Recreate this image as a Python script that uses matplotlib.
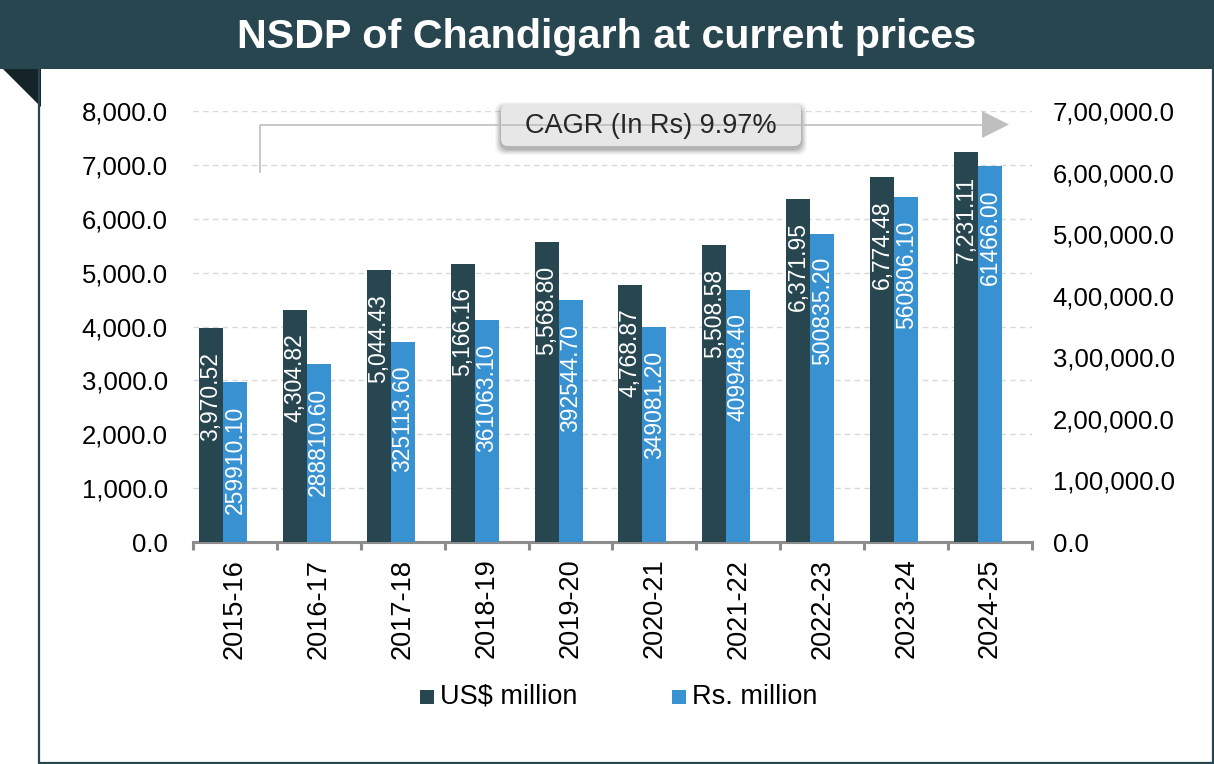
import matplotlib
matplotlib.use("Agg")
import matplotlib.pyplot as plt
from matplotlib.patches import Rectangle, Polygon, FancyBboxPatch
from matplotlib.ticker import FixedLocator, FuncFormatter, NullFormatter

plt.rcParams['font.family'] = ['Liberation Sans', 'DejaVu Sans']

# ---------------- data ----------------
years = ["2015-16", "2016-17", "2017-18", "2018-19", "2019-20",
         "2020-21", "2021-22", "2022-23", "2023-24", "2024-25"]
usd_million = [3970.52, 4304.82, 5044.43, 5166.16, 5568.80,
               4768.87, 5508.58, 6371.95, 6774.48, 7231.11]
rs_million = [259910.10, 288810.60, 325113.60, 361063.10, 392544.70,
              349081.20, 409948.40, 500835.20, 560806.10, 611466.00]
rs_labels = ["259910.10", "288810.60", "325113.60", "361063.10", "392544.70",
             "349081.20", "409948.40", "500835.20", "560806.10", "61466.00"]
series_names = ["US$ million", "Rs. million"]
title = "NSDP of Chandigarh at current prices"
cagr_text = "CAGR (In Rs) 9.97%"
left_ticks = [0, 1000, 2000, 3000, 4000, 5000, 6000, 7000, 8000]
right_ticks = [0, 100000, 200000, 300000, 400000, 500000, 600000, 700000]

# ---------------- style ----------------
DARK = "#27464f"
BLUE = "#3891d1"
TITLE_BG = "#284650"
TRI = "#152429"
GRID = "#d9d9d9"
AXIS = "#8c8c8c"
W, H = 1214, 764

fig = plt.figure(figsize=(W / 100, H / 100), dpi=100)
fig.patch.set_facecolor("white")

# background decorations (pixel coords)
bg = fig.add_axes([0, 0, 1, 1], zorder=-5)
bg.set_xlim(0, W)
bg.set_ylim(H, 0)
bg.axis("off")
bg.add_patch(Rectangle((0, 0), W, 69, facecolor=TITLE_BG, edgecolor="none"))
bg.add_patch(Polygon([(3, 69), (41, 69), (41, 107)], closed=True,
                     facecolor=TRI, edgecolor="none"))
bg.plot([39, 39, 1212.5, 1212.5], [69, 762.5, 762.5, 69], color=TITLE_BG, lw=1.6,
        solid_joinstyle="miter")
bg.text(W / 2, 37, title, color="white", fontsize=29.7, fontweight="bold",
        ha="center", va="center")

# ---------------- main axes ----------------
ax_left = 193 / W
ax_w = (1032 - 193) / W
ax_bottom = 1 - 542 / H
ax_h = (542 - 111) / H
ax = fig.add_axes([ax_left, ax_bottom, ax_w, ax_h], zorder=1)
ax.patch.set_alpha(0)
ax2 = ax.twinx()
ax2.patch.set_alpha(0)

n = len(years)
xs = list(range(n))
bw = 0.286

ax.bar([x - bw for x in xs], usd_million, width=bw, color=DARK, align="center", zorder=3)
ax2.bar(xs, rs_million, width=bw, color=BLUE, align="center", zorder=3)

ax.set_xlim(-0.5, n - 0.5)
ax.set_ylim(0, 8000)
ax2.set_ylim(0, 700000)

# bar labels
for x, v in zip(xs, usd_million):
    ax.annotate(f"{v:,.2f}", (x - bw, v), xytext=(0, -17), textcoords="offset points",
                rotation=90, ha="center", va="top", color="white", fontsize=16.5, zorder=5)
for x, v, lab in zip(xs, rs_million, rs_labels):
    ax2.annotate(lab, (x, v), xytext=(0, -17), textcoords="offset points",
                 rotation=90, ha="center", va="top", color="white", fontsize=16.5, zorder=5)

# grid
for t in left_ticks[1:]:
    ax.axhline(t, color=GRID, lw=1.0, ls=(0, (4, 3)), zorder=0)

# spines
for s in ["top", "left", "right"]:
    ax.spines[s].set_visible(False)
    ax2.spines[s].set_visible(False)
ax2.spines["bottom"].set_visible(False)
ax.spines["bottom"].set_color(AXIS)
ax.spines["bottom"].set_linewidth(2.2)

# x ticks: marks at category boundaries, labels at centres
ax.xaxis.set_major_locator(FixedLocator([i - 0.5 for i in range(n + 1)]))
ax.xaxis.set_major_formatter(NullFormatter())
ax.set_xticks(xs, minor=True)
ax.set_xticklabels(years, minor=True, rotation=90, fontsize=19.5)
ax.tick_params(axis="x", which="major", length=6, width=2.2, color=AXIS, direction="out")
ax.tick_params(axis="x", which="minor", length=0, pad=12)

# y ticks
ax.set_yticks(left_ticks)
ax.yaxis.set_major_formatter(FuncFormatter(lambda v, p: f"{v:,.1f}"))
ax.tick_params(axis="y", length=0, pad=18, labelsize=18.5)


def indian(v, p=None):
    s = f"{int(round(v))}"
    if len(s) > 3:
        head, tail = s[:-3], s[-3:]
        groups = []
        while len(head) > 2:
            groups.insert(0, head[-2:])
            head = head[:-2]
        if head:
            groups.insert(0, head)
        s = ",".join(groups + [tail])
    return s + ".0"


ax2.set_yticks(right_ticks)
ax2.yaxis.set_major_formatter(FuncFormatter(indian))
ax2.tick_params(axis="y", length=0, pad=15, labelsize=18.5)

# ---------------- overlay: CAGR arrow + legend ----------------
ov = fig.add_axes([0, 0, 1, 1], zorder=10)
ov.set_xlim(0, W)
ov.set_ylim(H, 0)
ov.axis("off")
ov.patch.set_alpha(0)

ARROW = "#bfbfbf"
ov.plot([260, 260, 983], [172, 124.5, 124.5], color=ARROW, lw=1.2)
ov.add_patch(Polygon([(982, 111), (1009, 124.5), (982, 138)], closed=True,
                     facecolor=ARROW, edgecolor="none"))
# soft shadow
for i, a in enumerate([0.03, 0.04, 0.05, 0.06, 0.07, 0.08]):
    g = 7 - i
    ov.add_patch(FancyBboxPatch((501 - g + 1, 106 - g + 3), 300 + 2 * g - 2, 41 + 2 * g - 2,
                                boxstyle="round,pad=0,rounding_size=9",
                                facecolor="black", edgecolor="none", alpha=a))
ov.add_patch(FancyBboxPatch((501, 104), 300, 42,
                            boxstyle="round,pad=0,rounding_size=7",
                            facecolor="#e7e7e7", edgecolor="none"))
ov.text(651, 126, cagr_text, fontsize=19.5, color="#262626", ha="center", va="center")

# legend
ov.add_patch(Rectangle((420, 690), 14, 14, facecolor=DARK, edgecolor="none"))
ov.text(440, 697, series_names[0], fontsize=19.5, color="black", ha="left", va="center")
ov.add_patch(Rectangle((672, 690), 14, 14, facecolor=BLUE, edgecolor="none"))
ov.text(692, 697, series_names[1], fontsize=19.5, color="black", ha="left", va="center")

fig.savefig("out.png", dpi=100, facecolor="white")
